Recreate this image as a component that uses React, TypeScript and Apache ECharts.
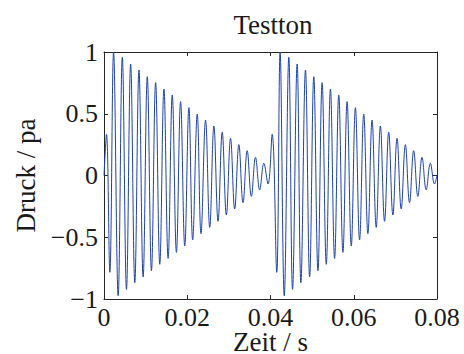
import React, { useEffect, useRef } from "react";
import * as echarts from "echarts";

// Extrema of the tone bursts (time in s, pressure in pa)
const burst1Time = [
  0, 0.0006, 0.0014, 0.0023, 0.0034, 0.0044, 0.0054, 0.0064, 0.0074, 0.0084, 0.0094,
  0.0104, 0.0114, 0.0124, 0.0134, 0.0144, 0.0154, 0.0164, 0.0174, 0.0184, 0.0194,
  0.0204, 0.0213, 0.0224, 0.0233, 0.0244, 0.0254, 0.0264, 0.0274, 0.0284, 0.0294,
  0.0304, 0.0314, 0.0324, 0.0334, 0.0344, 0.0354, 0.0364, 0.0374, 0.0384, 0.0394,
];
const burst1Value = [
  0, 0.333, -0.784, 1.0, -0.973, 0.957, -0.922, 0.903, -0.868, 0.854, -0.822,
  0.8, -0.771, 0.752, -0.719, 0.7, -0.671, 0.652, -0.622, 0.598, -0.571,
  0.549, -0.522, 0.498, -0.471, 0.449, -0.42, 0.401, -0.371, 0.35, -0.32,
  0.301, -0.271, 0.25, -0.22, 0.201, -0.169, 0.147, -0.117, 0.099, -0.069,
];
const burst2Time = [
  0.0404, 0.0415, 0.0423, 0.0433, 0.0444, 0.0453, 0.0464, 0.0473, 0.0484, 0.0494,
  0.0504, 0.0514, 0.0524, 0.0534, 0.0544, 0.0554, 0.0564, 0.0574, 0.0584, 0.0594,
  0.0604, 0.0614, 0.0624, 0.0634, 0.0644, 0.0654, 0.0664, 0.0674, 0.0684, 0.0694,
  0.0704, 0.0714, 0.0724, 0.0734, 0.0744, 0.0754, 0.0764, 0.0774, 0.0784, 0.0794, 0.08,
];
const burst2Value = [
  0.333, -0.784, 1.0, -0.973, 0.957, -0.922, 0.903, -0.868, 0.854, -0.822,
  0.8, -0.771, 0.752, -0.719, 0.7, -0.671, 0.652, -0.622, 0.598, -0.571,
  0.549, -0.522, 0.498, -0.471, 0.449, -0.42, 0.401, -0.371, 0.35, -0.32,
  0.301, -0.271, 0.25, -0.22, 0.201, -0.169, 0.147, -0.117, 0.099, -0.069, 0,
];

const xTicks = [0, 0.02, 0.04, 0.06, 0.08];
const yTicks = [-1, -0.5, 0, 0.5, 1];

const titleText = "Testton";
const xName = "Zeit / s";
const yName = "Druck / pa";

const FONT = "'Liberation Serif', 'Times New Roman', serif";

export default function App() {
  const ref = useRef<HTMLDivElement>(null);
  useEffect(() => {
    if (!ref.current) return;
    const chart = echarts.init(ref.current, null, { renderer: "svg" });
    const data: [number, number][] = [];
    burst1Time.forEach((t, i) => data.push([t, burst1Value[i]]));
    burst2Time.forEach((t, i) => data.push([t, burst2Value[i]]));

    const axisLine = { show: true, onZero: false, lineStyle: { color: "#262626", width: 1 } };
    const axisTick = { show: true, inside: true, length: 4, lineStyle: { color: "#262626", width: 1 } };
    const minus = (v: number) => String(v).replace("-", "\u2212");
    const xInterval = xTicks[1] - xTicks[0];
    const yInterval = yTicks[1] - yTicks[0];

    chart.setOption({
      animation: false,
      backgroundColor: "#ffffff",
      title: {
        text: titleText,
        left: 268,
        top: 6,
        textAlign: "center",
        textStyle: { fontFamily: FONT, fontSize: 27, fontWeight: "normal", color: "#1a1a1a" },
      },
      grid: {
        left: 104,
        right: 27,
        top: 52,
        bottom: 55,
        containLabel: false,
        outerBoundsMode: "none",
      },
      xAxis: [
        {
          type: "value",
          position: "bottom",
          min: xTicks[0],
          max: xTicks[xTicks.length - 1],
          interval: xInterval,
          axisLine,
          axisTick,
          splitLine: { show: false },
          axisLabel: {
            margin: 9,
            fontFamily: FONT,
            fontSize: 26,
            lineHeight: 18,
            color: "#1a1a1a",
            formatter: (v: number) => minus(Number(v.toFixed(2))),
          },
          name: xName,
          nameLocation: "middle",
          nameGap: 33,
          nameMoveOverlap: false,
          nameTextStyle: { fontFamily: FONT, fontSize: 27, lineHeight: 20, color: "#1a1a1a" },
        },
        {
          type: "value",
          position: "top",
          min: xTicks[0],
          max: xTicks[xTicks.length - 1],
          interval: xInterval,
          axisLine,
          axisTick,
          splitLine: { show: false },
          axisLabel: { show: false },
        },
      ],
      yAxis: [
        {
          type: "value",
          position: "left",
          min: yTicks[0],
          max: yTicks[yTicks.length - 1],
          interval: yInterval,
          axisLine,
          axisTick,
          splitLine: { show: false },
          axisLabel: {
            margin: 6,
            fontFamily: FONT,
            fontSize: 26,
            color: "#1a1a1a",
            formatter: (v: number) => minus(v),
          },
          name: yName,
          nameLocation: "middle",
          nameGap: 59,
          nameTextStyle: { fontFamily: FONT, fontSize: 27, color: "#1a1a1a" },
        },
        {
          type: "value",
          position: "right",
          min: yTicks[0],
          max: yTicks[yTicks.length - 1],
          interval: yInterval,
          axisLine,
          axisTick,
          splitLine: { show: false },
          axisLabel: { show: false },
        },
      ],
      series: [
        {
          type: "line",
          xAxisIndex: 0,
          yAxisIndex: 0,
          data,
          smooth: 0.4,
          symbol: "none",
          clip: false,
          lineStyle: { color: "#1f42aa", width: 1 },
        },
      ],
    });
    return () => chart.dispose();
  }, []);
  return (
    <div
      ref={ref}
      style={{ position: "fixed", left: 0, top: 0, width: 464, height: 354, background: "#fff" }}
    />
  );
}
